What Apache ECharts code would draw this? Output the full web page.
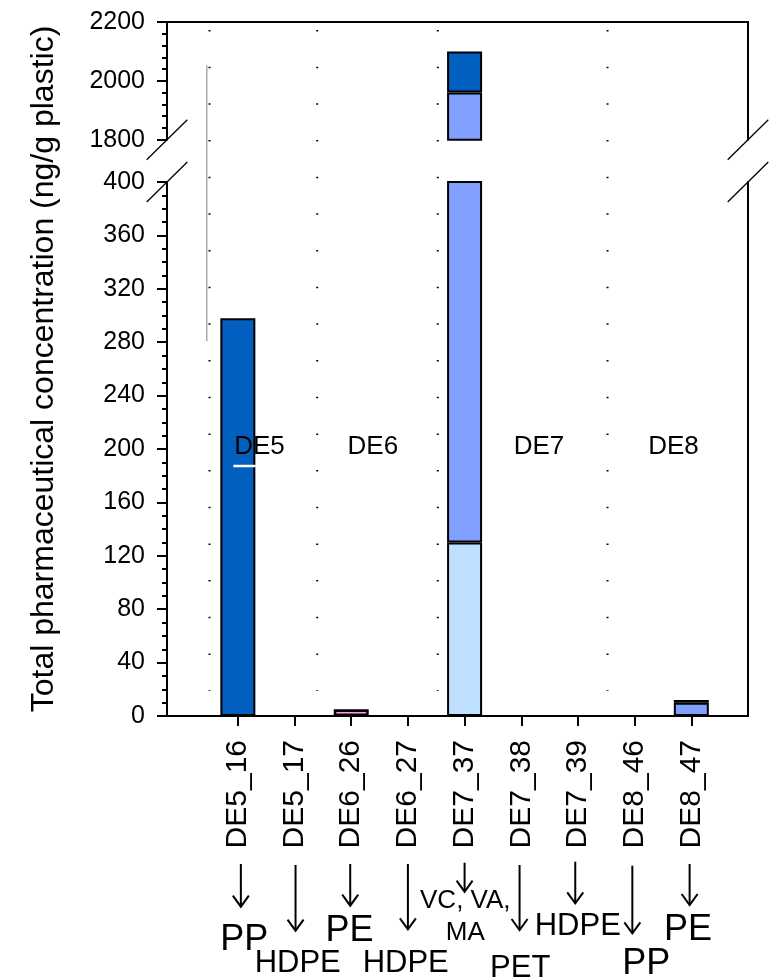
<!DOCTYPE html>
<html><head><meta charset="utf-8">
<script src="https://cdn.jsdelivr.net/npm/echarts@6/dist/echarts.min.js"></script>
<style>html,body{margin:0;padding:0;background:#fff}#c{width:769px;height:980px}</style>
</head><body><div id="c"></div>
<script>
// ---------------- data ----------------
const categories = ['DE5_16','DE5_17','DE6_26','DE6_27','DE7_37','DE7_38','DE7_39','DE8_46','DE8_47'];
const lightBlue  = [0, 0, 0, 0, 130, 0, 0, 0, 0];
const mediumBlue = [0, 0, 0, 0, 1830, 0, 0, 0, 10];
const darkBlue   = [298, 0, 0, 0, 140, 0, 0, 0, 2];
const pink       = [0, 0, 5, 0, 0, 0, 0, 0, 0];
const lowerTicks = [0, 40, 80, 120, 160, 200, 240, 280, 320, 360, 400];
const upperTicks = [1800, 2000, 2200];
const groupNames = ['DE5', 'DE6', 'DE7', 'DE8'];
const groupX     = [1.382, 3.381, 6.313, 8.686];
const groupY     = 202;
const separatorX = [0.5, 2.4, 4.527, 7.522];
const polymers   = ['PP', 'HDPE', 'PE', 'HDPE', 'VC, VA,\nMA', 'PET', 'HDPE', 'PP', 'PE'];
const yTitle = 'Total pharmaceutical concentration (ng/g plastic)';

// ---------------- layout ----------------
const FONT = '"Liberation Sans", Arial, sans-serif';
const PLOT_L = 167, PLOT_R = 748, RIGHT = 769 - PLOT_R;
const X_MIN = -0.25, X_MAX = 10;
const UNIT = (PLOT_R - PLOT_L) / (X_MAX - X_MIN);
const GL = PLOT_L + (0 - X_MIN) * UNIT;   // category grid left (index 0 = blank)
const OFF = GL - PLOT_L;
// arrows: [dx, yTop, yBottom]
const arrowLayout = [[3,864,906.7],[1,865,930.7],[-1,864,905.7],[0,864,929.3],[0,862.7,891.7],
                     [-1.7,865,930],[-2.7,861.7,903.3],[-2.3,865.7,933.3],[-1.7,864,905]];
// polymer labels: [dx, baseline(center for multi-line), fontSize]
const polyLayout = [[6.3,953,36],[3.2,974.6,31],[-1.7,943.3,36],[-2.2,974.5,31],[0.7,925.8,26],
                    [-1,978.7,31],[-0.2,936.7,31],[11.7,977,36],[-3.4,942.7,36]];

const xData = [' '].concat(categories, ['  ']);
const wrap = arr => ['-'].concat(arr.map(v => v === 0 ? '-' : v), ['-']);

const seriesDefs = [
  {name: 'light',  values: lightBlue,  color: '#BFDFFF', bw: 2},
  {name: 'medium', values: mediumBlue, color: '#809FFF', bw: 2},
  {name: 'dark',   values: darkBlue,   color: '#005FBF', bw: 2},
  {name: 'pink',   values: pink,       color: '#FF99FF', bw: 2.6}
];

const black = '#000';
const series = [];
[[0, 0], [1, 2]].forEach(([xi, yi]) => {
  seriesDefs.forEach(d => {
    series.push({
      type: 'bar', name: d.name, xAxisIndex: xi, yAxisIndex: yi, stack: 'g' + xi,
      data: wrap(d.values), barWidth: 35, clip: true, silent: true,
      itemStyle: {color: d.color, borderColor: black, borderWidth: d.bw}
    });
  });
});
// group separators (dotted)
separatorX.forEach(sx => {
  series.push({
    type: 'line', xAxisIndex: 2, yAxisIndex: 4, symbol: 'none', silent: true, z: 1,
    data: [[sx, 514], [sx, 19]],
    lineStyle: {color: black, width: 2, type: [1.5, 35.17]}
  });
});
// stray thin gray line
series.push({
  type: 'line', xAxisIndex: 2, yAxisIndex: 4, symbol: 'none', silent: true, z: 1,
  data: [[0.453, 487.6], [0.453, 280.9]], lineStyle: {color: '#808080', width: 1}
});
// white underline in DE5 bar
series.push({
  type: 'line', xAxisIndex: 2, yAxisIndex: 4, symbol: 'none', silent: true, z: 5,
  data: [[0.92, 187.3], [1.315, 187.3]], lineStyle: {color: '#fff', width: 2.5}
});
// group labels
series.push({
  type: 'scatter', xAxisIndex: 2, yAxisIndex: 4, symbolSize: 0, silent: true, z: 6,
  itemStyle: {opacity: 1},
  data: groupNames.map((n, i) => ({value: [groupX[i], groupY], name: n})),
  label: {show: true, position: 'inside', formatter: p => p.name, fontSize: 26, color: '#000',
          opacity: 1, textBorderWidth: 0, fontFamily: FONT}
});

const tickStyle = {color: black, width: 2};
const lineOnlyY = (grid, pos) => ({
  type: 'value', gridIndex: grid, position: pos,
  axisLine: {show: true, onZero: false, lineStyle: {color: black, width: 2}},
  axisTick: {show: false}, axisLabel: {show: false}, splitLine: {show: false}
});
const plain = v => String(v);

const option = {
  animation: false,
  backgroundColor: '#fff',
  textStyle: {fontFamily: FONT},
  grid: [
    {left: GL, right: RIGHT, top: 182, bottom: 980 - 716, outerBoundsMode: 'none'},
    {left: GL, right: RIGHT, top: 22, height: 117.7, outerBoundsMode: 'none'},
    {left: PLOT_L, right: RIGHT, top: 22, bottom: 980 - 716, outerBoundsMode: 'none'}
  ],
  xAxis: [
    {type: 'category', gridIndex: 0, data: xData, boundaryGap: false,
     axisLine: {show: false},
     axisTick: {show: true, length: 10, inside: false, lineStyle: tickStyle,
                interval: (i) => i > 0 && i < xData.length - 1},
     axisLabel: {interval: 0, rotate: 90, fontSize: 30, margin: 24, color: black, fontFamily: FONT},
     splitLine: {show: false}},
    {type: 'category', gridIndex: 1, data: xData, boundaryGap: false, show: false},
    {type: 'value', gridIndex: 2, min: X_MIN, max: X_MAX, position: 'bottom',
     axisLine: {show: true, onZero: false, lineStyle: {color: black, width: 2}},
     axisTick: {show: false}, axisLabel: {show: false}, splitLine: {show: false}},
    {type: 'value', gridIndex: 2, min: X_MIN, max: X_MAX, position: 'top',
     axisLine: {show: true, onZero: false, lineStyle: {color: black, width: 2}},
     axisTick: {show: false}, axisLabel: {show: false}, splitLine: {show: false}}
  ],
  yAxis: [
    {type: 'value', gridIndex: 0, position: 'left', offset: OFF,
     min: lowerTicks[0], max: lowerTicks[lowerTicks.length - 1], interval: lowerTicks[1] - lowerTicks[0],
     axisLine: {show: true, onZero: false, lineStyle: {color: black, width: 2}},
     axisTick: {show: true, length: 10, lineStyle: tickStyle},
     minorTick: {show: true, splitNumber: 4, length: 5, lineStyle: tickStyle},
     axisLabel: {fontSize: 25, color: black, margin: 22, fontFamily: FONT, formatter: plain},
     splitLine: {show: false}, minorSplitLine: {show: false}},
    lineOnlyY(0, 'right'),
    {type: 'value', gridIndex: 1, position: 'left', offset: OFF,
     min: upperTicks[0], max: upperTicks[upperTicks.length - 1], interval: upperTicks[1] - upperTicks[0],
     axisLine: {show: true, onZero: false, lineStyle: {color: black, width: 2}},
     axisTick: {show: true, length: 10, lineStyle: tickStyle},
     minorTick: {show: true, splitNumber: 5, length: 5, lineStyle: tickStyle},
     axisLabel: {fontSize: 25, color: black, margin: 22, fontFamily: FONT, formatter: plain},
     splitLine: {show: false}, minorSplitLine: {show: false}},
    lineOnlyY(1, 'right'),
    {type: 'value', gridIndex: 2, min: 0, max: 520, position: 'left',
     name: yTitle, nameLocation: 'middle', nameGap: 107,
     nameTextStyle: {fontSize: 32, color: black, fontFamily: FONT},
     axisLine: {show: false}, axisTick: {show: false}, axisLabel: {show: false}, splitLine: {show: false}}
  ],
  series: series
};

const chart = echarts.init(document.getElementById('c'));
chart.setOption(option);

// ---------- annotations below the axis & axis-break marks ----------
const graphics = [];
const yBreakUpper = chart.convertToPixel({yAxisIndex: 2}, upperTicks[0]);
const yBreakLower = chart.convertToPixel({yAxisIndex: 0}, lowerTicks[lowerTicks.length - 1]);
[PLOT_L, PLOT_R].forEach(cx => {
  [yBreakUpper, yBreakLower].forEach(cy => {
    graphics.push({type: 'line', shape: {x1: cx - 20.3, y1: cy + 20, x2: cx + 20.3, y2: cy - 20},
                   style: {stroke: black, lineWidth: 1.3}, z: 10});
  });
});
categories.forEach((c, i) => {
  const px = chart.convertToPixel({xAxisIndex: 0}, c);
  const [dx, y1, y2] = arrowLayout[i];
  const ax = px + dx;
  graphics.push({type: 'line', shape: {x1: ax, y1: y1, x2: ax, y2: y2},
                 style: {stroke: black, lineWidth: 2}});
  graphics.push({type: 'polyline', shape: {points: [[ax - 8, y2 - 11], [ax, y2], [ax + 8, y2 - 11]]},
                 style: {stroke: black, lineWidth: 2, fill: null}});
  const [tdx, base, fs] = polyLayout[i];
  graphics.push({type: 'text', x: px + tdx, y: base - 0.3465 * fs,
                 style: {text: polymers[i], font: fs + 'px ' + FONT, fill: black,
                         align: 'center', verticalAlign: 'middle', lineHeight: 31.7}});
});
chart.setOption({graphic: graphics});
</script>
</body></html>
